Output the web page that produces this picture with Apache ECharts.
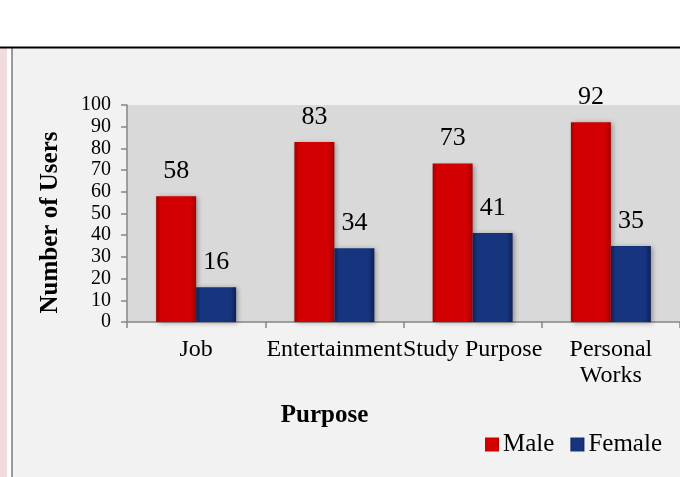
<!DOCTYPE html>
<html>
<head>
<meta charset="utf-8">
<script src="https://cdn.jsdelivr.net/npm/echarts@6/dist/echarts.min.js"></script>
<style>
  html, body { margin: 0; padding: 0; background: #ffffff; }
  #chart { width: 680px; height: 477px; }
</style>
</head>
<body>
<div id="chart"></div>
<script>
// Purposes of use, split by gender
const categories = ['Job', 'Entertainment', 'Study Purpose', 'Personal\nWorks'];
const maleUsers = [58, 83, 73, 92];
const femaleUsers = [16, 34, 41, 35];
const yTicks = { min: 0, max: 100, interval: 10 };

const serif = '"Liberation Serif", "DejaVu Serif", serif';

// horizontal shading that gives the bars a bevelled edge
function bevel(edge, mid) {
  return {
    type: 'linear', x: 0, y: 0, x2: 1, y2: 0,
    colorStops: [
      { offset: 0, color: edge },
      { offset: 0.12, color: mid },
      { offset: 0.85, color: mid },
      { offset: 1, color: edge }
    ]
  };
}

const chart = echarts.init(document.getElementById('chart'), null, { renderer: 'canvas' });

const valueLabel = { show: true, position: 'top', distance: 12, fontFamily: serif, fontSize: 26, color: '#000' };

chart.setOption({
  animation: false,
  backgroundColor: '#ffffff',
  graphic: [
    { type: 'rect', shape: { x: 13, y: 48, width: 680, height: 440 }, style: { fill: '#f2f2f2' }, z: -10 },
    { type: 'rect', shape: { x: 0, y: 48, width: 7, height: 440 }, style: { fill: '#f2dcdb' }, z: -10 },
    { type: 'rect', shape: { x: 11, y: 48, width: 2, height: 440 }, style: { fill: '#9a9a9a' }, z: -10 },
    { type: 'rect', shape: { x: 0, y: 46.5, width: 680, height: 2 }, style: { fill: '#000000' }, z: -9 }
  ],
  grid: {
    left: 127, top: 105, width: 560, height: 217,
    show: true, backgroundColor: '#d9d9d9', borderWidth: 0
  },
  legend: {
    right: 13, top: 427,
    itemWidth: 14, itemHeight: 14, itemGap: 16,
    icon: 'rect',
    textStyle: { fontFamily: serif, fontSize: 25, color: '#000', padding: [0, 0, 0, -1] },
    data: ['Male', 'Female']
  },
  xAxis: {
    type: 'category',
    data: categories,
    name: 'Purpose',
    nameLocation: 'middle',
    nameGap: 81,
    nameTextStyle: { fontFamily: serif, fontSize: 25, fontWeight: 'bold', color: '#000', padding: [0, 158, 0, 0] },
    axisLine: { lineStyle: { color: '#868686', width: 1.5 } },
    axisTick: { show: true, length: 6, lineStyle: { color: '#868686', width: 1.5 } },
    axisLabel: { fontFamily: serif, fontSize: 24, color: '#000', margin: 15, lineHeight: 26, interval: 0 }
  },
  yAxis: {
    type: 'value',
    min: yTicks.min, max: yTicks.max, interval: yTicks.interval,
    name: 'Number of Users',
    nameLocation: 'middle',
    nameGap: 64,
    nameTextStyle: { fontFamily: serif, fontSize: 25, fontWeight: 'bold', color: '#000', padding: [0, 18, 0, 0] },
    axisLine: { show: true, lineStyle: { color: '#868686', width: 1.5 } },
    axisTick: { show: true, length: 6, lineStyle: { color: '#868686', width: 1.5 } },
    axisLabel: { fontFamily: serif, fontSize: 20, color: '#000', margin: 16 },
    splitLine: { show: false }
  },
  series: [
    {
      name: 'Male', type: 'bar', data: maleUsers,
      barWidth: 40, barGap: '0%',
      itemStyle: {
        color: bevel('#a50000', '#d20000'),
        shadowColor: 'rgba(0,0,0,0.35)', shadowBlur: 5, shadowOffsetX: 2, shadowOffsetY: 1
      },
      label: valueLabel
    },
    {
      name: 'Female', type: 'bar', data: femaleUsers,
      barWidth: 40,
      itemStyle: {
        color: bevel('#0d2156', '#17347f'),
        shadowColor: 'rgba(0,0,0,0.35)', shadowBlur: 5, shadowOffsetX: 2, shadowOffsetY: 1
      },
      label: valueLabel
    }
  ]
});
</script>
</body>
</html>
